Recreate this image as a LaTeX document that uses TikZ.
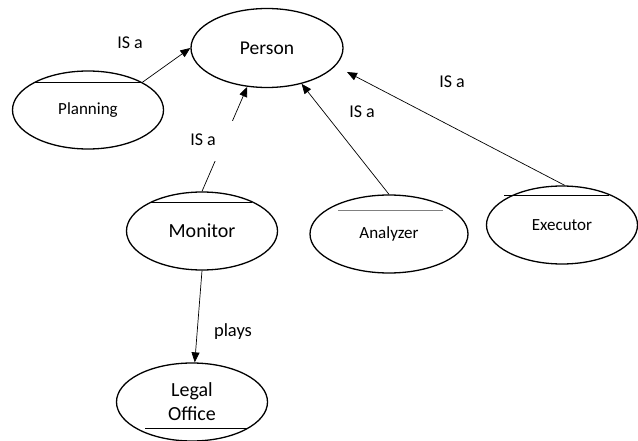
\documentclass[tikz,border=0pt]{standalone}
\usepackage{fontspec}
\setmainfont{Carlito}
\usetikzlibrary{shapes.geometric,arrows.meta,calc}
\begin{document}
\begin{tikzpicture}[x=1pt,y=-1pt,
  ent/.style={ellipse,draw,line width=1.3pt,inner sep=0pt,align=center,
              minimum width=151pt,minimum height=78pt},
  link/.style={draw,line width=0.7pt,-{Triangle[length=10pt,width=8pt]}},
  lab/.style={font=\fontsize{18}{21}\selectfont,inner sep=0pt},
  bar/.style={line width=1pt}]
\useasboundingbox (0,0) rectangle (638,441);

% entities
\node[ent,minimum width=152pt,minimum height=79pt,font=\fontsize{19.5}{23}\selectfont] (person) at (267,48) {Person};
\node[ent,font=\fontsize{17}{20}\selectfont] (planning) at (88,110) {Planning};
\node[ent,font=\fontsize{20}{24}\selectfont] (monitor) at (202,231) {Monitor};
\node[ent,minimum width=158pt,font=\fontsize{17}{20}\selectfont] (analyzer) at (389,234) {Analyzer};
\node[ent,font=\fontsize{17}{20}\selectfont] (executor) at (562,225) {Executor};
\node[ent,font=\fontsize{20}{24}\selectfont] (legal) at (192,402) {Legal\\Office};

% rule lines inside the ellipses
\draw[bar] ($(planning)+(-53,-27)$) -- ($(planning)+(54,-27)$);
\draw[bar] ($(monitor)+(-52,-28)$) -- ($(monitor)+(50,-28)$);
\draw[bar,gray] ($(analyzer)+(-51,-23)$) -- ($(analyzer)+(54,-23)$);
\draw[bar] ($(executor)+(-58,-29)$) -- ($(executor)+(47,-29)$);
\draw[bar] ($(legal)+(-47,26)$) -- ($(legal)+(56,26)$);

% connectors
\coordinate (exTip) at (347,72);
\draw[link] (planning.27) -- (person.180);
\draw[link] (monitor.90) -- (person.243);
\draw[link] (analyzer.90) -- (person.314);
\draw[link] (executor.86) -- (exTip);
\draw[link] (monitor.270) -- (legal.86);

% text box of the monitor label hides part of its connector
\fill[white] (185,121) rectangle (235,161);

% relation labels
\node[lab] (isaPlan) at (130,43) {IS a};
\node[lab] (isaMon) at (203,140) {IS a};
\node[lab] (isaAna) at (362,112) {IS a};
\node[lab] (isaExe) at (452,82) {IS a};
\node[lab,font=\fontsize{18.5}{22}\selectfont] (plays) at (233,332) {plays};
\end{tikzpicture}
\end{document}
